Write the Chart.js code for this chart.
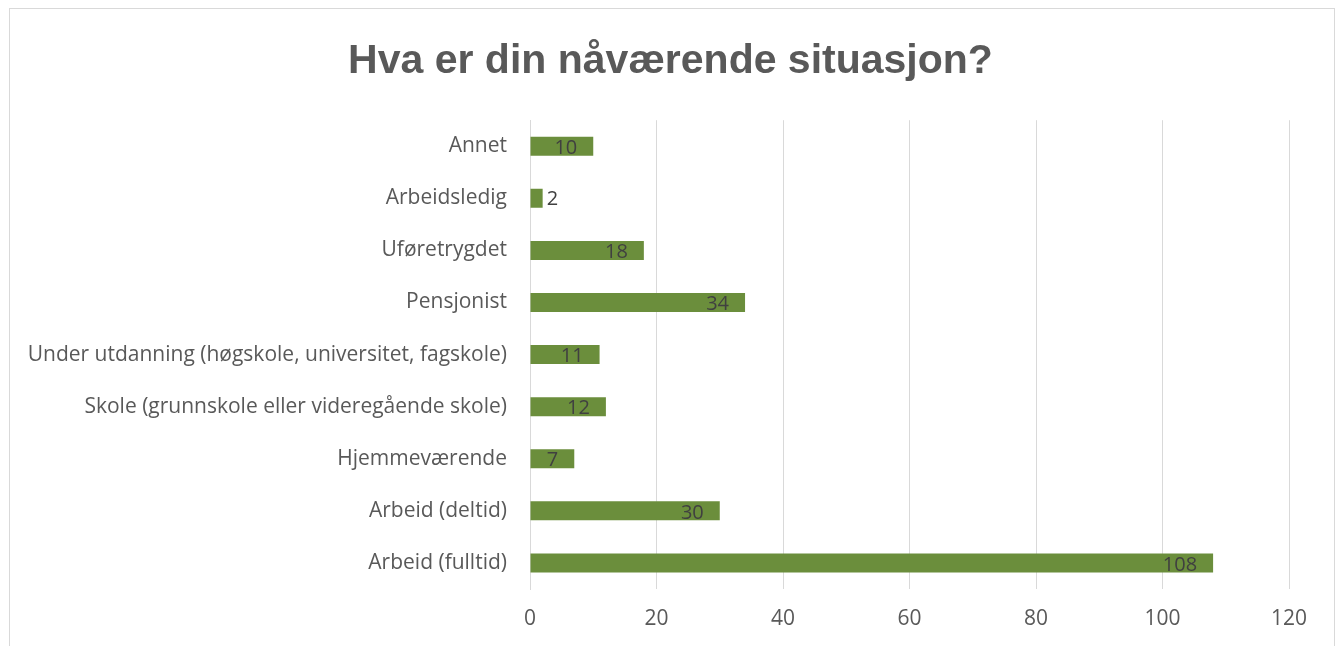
<!DOCTYPE html>
<html lang="no">
<head>
  <meta charset="UTF-8">
  <title>Hva er din nåværende situasjon?</title>
  <script src="https://cdn.jsdelivr.net/npm/chart.js"></script>
  <style>
    html, body { margin: 0; padding: 0; background: #fff; overflow: hidden; }
    #frame { position: absolute; left: 9px; top: 8px; width: 1324px; height: 700px; border: 1px solid #d9d9d9; }
    #wrap { position: absolute; left: 0; top: 0; width: 1341px; height: 646px; }
  </style>
</head>
<body>
  <div id="frame"></div>
  <div id="wrap"><canvas id="situasjonChart"></canvas></div>

  <script>
    const categories = [
      'Annet',
      'Arbeidsledig',
      'Uføretrygdet',
      'Pensjonist',
      'Under utdanning (høgskole, universitet, fagskole)',
      'Skole (grunnskole eller videregående skole)',
      'Hjemmeværende',
      'Arbeid (deltid)',
      'Arbeid (fulltid)'
    ];
    const counts = [10, 2, 18, 34, 11, 12, 7, 30, 108];
    const xTicks = [0, 20, 40, 60, 80, 100, 120];

    const labelFont = "'Open Sans', 'Liberation Sans', sans-serif";
    const titleFont = "'Liberation Sans', Arial, sans-serif";

    // labels at the end of each bar, inside when there is room
    const barLabels = {
      id: 'barLabels',
      afterDatasetsDraw(chart) {
        const ctx = chart.ctx;
        const meta = chart.getDatasetMeta(0);
        ctx.save();
        ctx.font = '20px ' + labelFont;
        ctx.fillStyle = '#404040';
        ctx.textBaseline = 'middle';
        meta.data.forEach((bar, i) => {
          const txt = String(counts[i]);
          const w = ctx.measureText(txt).width;
          const len = bar.x - bar.base;
          if (len > w + 20) {
            ctx.textAlign = 'right';
            ctx.fillText(txt, bar.x - 16, bar.y + 2);
          } else {
            ctx.textAlign = 'left';
            ctx.fillText(txt, bar.x + 4, bar.y + 1);
          }
        });
        ctx.restore();
      }
    };

    // centre the title on the whole canvas, not on the padded area
    const titleCentre = {
      id: 'titleCentre',
      afterLayout(chart) {
        const t = chart.titleBlock;
        if (t) { t.left = 0; t.right = chart.width; t.width = chart.width; }
      }
    };

    new Chart(document.getElementById('situasjonChart'), {
      type: 'bar',
      data: {
        labels: categories,
        datasets: [{
          data: counts,
          backgroundColor: '#6b8e3c',
          borderWidth: 0,
          barPercentage: 0.73,
          categoryPercentage: 0.5
        }]
      },
      options: {
        indexAxis: 'y',
        responsive: true,
        maintainAspectRatio: false,
        animation: false,
        layout: { padding: { left: 0, right: 52, top: 0, bottom: 0 } },
        plugins: {
          legend: { display: false },
          tooltip: { enabled: false },
          title: {
            display: true,
            text: 'Hva er din nåværende situasjon?',
            color: '#595959',
            font: { family: titleFont, size: 41, weight: 'bold' },
            padding: { top: 37, bottom: 34 }
          }
        },
        scales: {
          x: {
            min: 0,
            max: 120,
            afterBuildTicks(axis) { axis.ticks = xTicks.map(v => ({ value: v })); },
            grid: { color: '#d9d9d9', lineWidth: 1, drawTicks: false },
            border: { display: false },
            ticks: {
              color: '#595959',
              font: { family: labelFont, size: 21 },
              padding: 17
            },
            afterFit(axis) { axis.height = 57; }
          },
          y: {
            grid: { display: false, drawTicks: false },
            border: { display: true, color: '#d9d9d9' },
            ticks: {
              color: '#595959',
              font: { family: labelFont, size: 21 },
              padding: 23,
              autoSkip: false
            },
            afterFit(axis) { axis.width = 530; }
          }
        }
      },
      plugins: [barLabels, titleCentre]
    });
  </script>
</body>
</html>
